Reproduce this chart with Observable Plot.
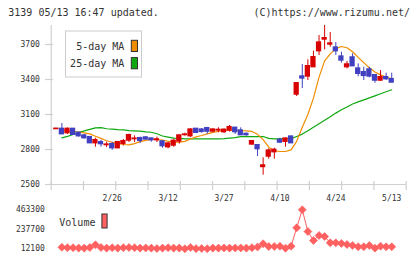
<!DOCTYPE html>
<html><head><meta charset="utf-8">
<script src="https://cdn.jsdelivr.net/npm/d3@7"></script>
<script src="https://cdn.jsdelivr.net/npm/@observablehq/plot@0.6"></script>
<style>
body{margin:0;background:#fff;}
#wrap{position:relative;width:420px;height:259px;overflow:hidden;background:#fff;}
#wrap > svg{position:absolute;left:0;}
</style></head><body><div id="wrap"></div>
<script>
// ---- data ----
const dateLabels = ["2/26","3/12","3/27","4/10","4/24","5/13"];
const labelIndex = [10,20,30,40,50,60];
const yTicks = [2500,2800,3100,3400,3700];
const opens  = [2975,2977,2940,2977,2943,2920,2906,2854,2863,2838,2846,2811,2849,2877,2889,2897,2903,2894,2880,2869,2820,2834,2869,2924,2914,2977,2971,2983,2954,2963,2949,2963,2986,2963,2934,2843,2837,2650,2740,2777,2883,2866,2911,3271,3426,3426,3506,3643,3743,3700,3674,3597,3506,3589,3494,3463,3486,3437,3391,3420,3403];
const highs  = [2980,3023,2985,2980,2950,2928,2910,2897,2880,2863,2863,2866,2886,2931,2917,2906,2910,2897,2906,2872,2863,2889,2926,2940,2977,2980,2977,2989,2977,2986,2977,3006,2990,2986,2940,2877,2840,2729,2806,2811,2897,2897,2914,3371,3529,3569,3643,3777,3863,3803,3717,3634,3554,3620,3534,3506,3506,3440,3477,3454,3454];
const lows   = [2972,2931,2930,2926,2905,2890,2854,2820,2820,2817,2794,2808,2830,2860,2860,2851,2880,2863,2860,2811,2806,2820,2846,2914,2903,2940,2940,2931,2943,2943,2937,2949,2929,2920,2914,2837,2740,2580,2717,2717,2851,2820,2854,3254,3323,3391,3506,3606,3654,3677,3606,3540,3491,3511,3423,3391,3414,3368,3386,3391,3374];
const closes = [2978,2931,2977,2926,2914,2897,2854,2880,2846,2842,2811,2863,2871,2923,2893,2874,2886,2880,2886,2829,2851,2874,2920,2928,2971,2943,2951,2954,2971,2968,2969,2991,2949,2923,2923,2871,2803,2663,2791,2797,2860,2894,2854,3368,3409,3514,3591,3717,3754,3709,3643,3563,3529,3514,3449,3431,3426,3391,3420,3403,3374];
// moving averages, index 1..60
const ma5  = [2965,2960,2955,2950,2942,2934,2914,2895,2875,2862,2851,2843,2840,2850,2868,2878,2886,2886,2880,2871,2863,2863,2870,2890,2908,2920,2934,2947,2955,2963,2966,2966,2963,2960,2955,2930,2885,2820,2790,2783,2783,2797,2870,2990,3100,3240,3420,3560,3620,3665,3683,3672,3638,3590,3545,3500,3465,3440,3420,3405];
const ma25 = [2900,2912,2930,2945,2960,2972,2985,2988,2978,2975,2970,2968,2962,2960,2958,2951,2948,2935,2916,2906,2897,2895,2891,2891,2891,2891,2891,2891,2891,2893,2898,2902,2910,2911,2911,2911,2911,2895,2891,2891,2891,2893,2912,2932,2960,2990,3020,3050,3080,3112,3140,3165,3190,3208,3225,3243,3260,3278,3295,3312];
// volume, index 1..60
const volume = [30000,25000,25000,20000,20000,27000,58000,27000,20000,25000,20000,25000,27000,25000,20000,22000,20000,15000,20000,25000,20000,20000,12100,28000,14000,16000,13000,20000,20000,22000,20000,22000,22000,20000,25000,33000,70000,38000,38000,42000,19000,42000,255000,463300,212000,108000,166000,154000,81500,81500,73600,62000,50300,35000,35000,50300,19400,42600,34900,34900];
const volTicks = [463300,237700,12100];
const volTickLabels = ["463300","237700","12100"];

// ---- build ----
const RED = "#d80000", BLUE = "#4040c0", ORANGE = "#f08c00", GREEN = "#10a810", VOLC = "#ff6060", AXIS = "#d0d0d0", TXT = "#333";
const candles = opens.map((o,i)=>({i, o, h:highs[i], l:lows[i], c:closes[i]}));
const ma5Data = ma5.map((v,k)=>({i:k+1, v}));
const ma25Data = ma25.map((v,k)=>({i:k+1, v}));
const volData = volume.map((v,k)=>({i:k+1, v}));

const W = 420;
const mL = 50.7, mR = 14.3;
const xDomain = [-0.912, 62.59];
const ipp = (xDomain[1]-xDomain[0])/(W-mL-mR);
const gridTicks = d3.range(12).map(k => xDomain[0] + k*(xDomain[1]-xDomain[0])/11);
const yDomain = [2500, 3863];
const mainH = 200, mT = 25, mB = 16;
const vpp = (yDomain[1]-yDomain[0])/(mainH-mT-mB);
const font = {fontFamily:"'DejaVu Sans Mono', monospace", fontSize:"8px", color:TXT, background:"transparent", overflow:"visible"};
const col = d => d.c >= d.o ? RED : BLUE;

const main = Plot.plot({
  width: W, height: mainH, marginLeft: mL, marginRight: mR, marginTop: mT, marginBottom: mB,
  style: font,
  x: {domain: xDomain, axis: null},
  y: {domain: yDomain, axis: null},
  color: {type: "identity"},
  marks: [
    Plot.ruleX([xDomain[0]], {stroke: AXIS, strokeWidth: 1.2}),
    Plot.ruleY([yDomain[0]], {stroke: AXIS, strokeWidth: 1.2}),
    Plot.ruleX(gridTicks, {x: d=>d, y1: yDomain[0]-6*vpp, y2: yDomain[0]+3*vpp, stroke: AXIS, strokeWidth: 1.2}),
    Plot.ruleY(yTicks, {y: d=>d, x1: xDomain[0]-5.7*ipp, x2: xDomain[0]+2.3*ipp, stroke: AXIS, strokeWidth: 1.2}),
    Plot.text(yTicks, {x: xDomain[0], y: d=>d, text: d=>String(d), textAnchor: "end", dx: -11.4, fill: TXT}),
    Plot.text(labelIndex, {x: d=>d, y: yDomain[0], text: (d,k)=>dateLabels[k], dy: 14.3, fill: TXT}),
    Plot.line(ma25Data, {x: "i", y: "v", stroke: GREEN, strokeWidth: 1.2}),
    Plot.line(ma5Data, {x: "i", y: "v", stroke: ORANGE, strokeWidth: 1.2}),
    Plot.ruleX(candles, {x: "i", y1: "l", y2: "h", stroke: col, strokeWidth: 1}),
    Plot.rect(candles, {x1: d=>d.i-0.47, x2: d=>d.i+0.47, y1: d=>Math.min(d.o,d.c), y2: d=>Math.max(d.o,d.c), fill: col, insetTop: -0.7, insetBottom: -0.7})
  ]
});
main.style.top = "0px";

const diamond = {draw(ctx, size){ const r = Math.sqrt(size/2); ctx.moveTo(0,-r); ctx.lineTo(r,0); ctx.lineTo(0,r); ctx.lineTo(-r,0); ctx.closePath(); }};
const volH = 59;
const vol = Plot.plot({
  width: W, height: volH, marginLeft: mL, marginRight: mR, marginTop: 9.3, marginBottom: 10.7,
  style: font,
  x: {domain: xDomain, axis: null},
  y: {domain: [volTicks[2], volTicks[0]], axis: null},
  marks: [
    Plot.text(volTicks, {x: xDomain[0], y: d=>d, text: (d,k)=>volTickLabels[k], textAnchor: "end", dx: -6.4, fill: TXT}),
    Plot.line(volData, {x: "i", y: "v", stroke: VOLC, strokeWidth: 1}),
    Plot.dot(volData, {x: "i", y: "v", symbol: diamond, r: 3.2, fill: VOLC, stroke: VOLC, strokeWidth: 0.6})
  ]
});
vol.style.top = "200px";

const wrap = document.getElementById("wrap");
wrap.appendChild(main);
wrap.appendChild(vol);

// overlay: header and legends
const ov = d3.create("svg").attr("width", W).attr("height", 259).style("top","0px")
  .attr("font-family","'DejaVu Sans Mono', monospace").attr("font-size", 10).attr("fill", TXT);
ov.append("text").attr("x", 8.3).attr("y", 16.3).text("3139 05/13 16:47 updated.");
ov.append("text").attr("x", 410).attr("y", 16.3).attr("text-anchor","end").text("(C)https://www.rizumu.net/");
ov.append("rect").attr("x", 65.5).attr("y", 31).attr("width", 76).attr("height", 46).attr("fill","#fff").attr("stroke","#ccc");
ov.append("text").attr("x", 124.3).attr("y", 49.6).attr("text-anchor","end").text("5-day MA");
ov.append("rect").attr("x", 131.3).attr("y", 40.3).attr("width", 6.2).attr("height", 11.2).attr("fill", ORANGE).attr("stroke","#333");
ov.append("text").attr("x", 124.3).attr("y", 67).attr("text-anchor","end").text("25-day MA");
ov.append("rect").attr("x", 131.3).attr("y", 57.6).attr("width", 6.2).attr("height", 11.2).attr("fill", GREEN).attr("stroke","#333");
ov.append("text").attr("x", 59.3).attr("y", 226).text("Volume");
ov.append("rect").attr("x", 101.9).attr("y", 214).attr("width", 5.2).attr("height", 14).attr("fill", VOLC).attr("stroke","#333");
wrap.appendChild(ov.node());
</script></body></html>
